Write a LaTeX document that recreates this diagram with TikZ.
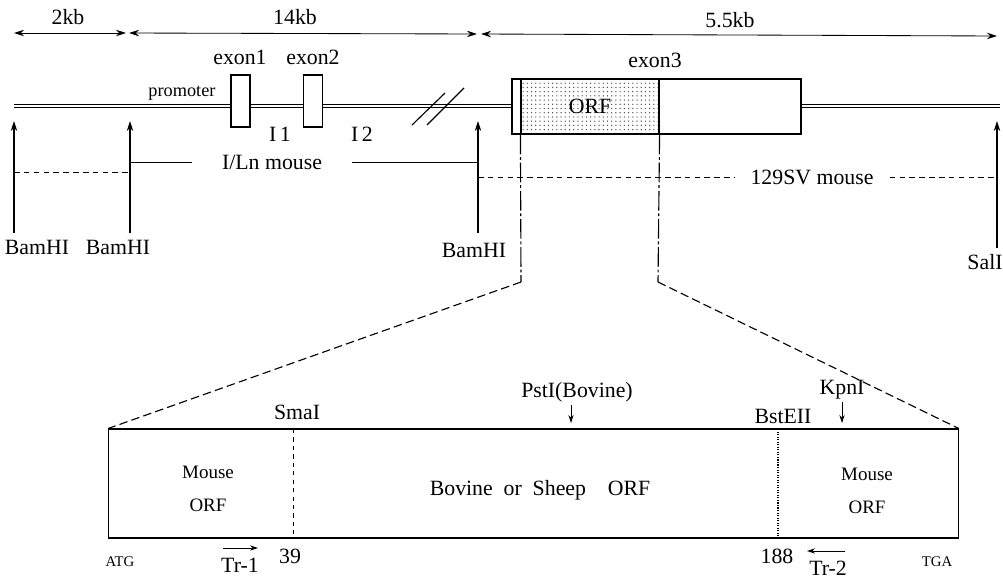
\documentclass[tikz,border=0pt]{standalone}
\usepackage{fontspec}
\setmainfont{Liberation Serif}
\usetikzlibrary{arrows.meta,positioning,patterns}
\tikzset{
 lbl/.style={font=\fontsize{15.5}{18}\selectfont,inner sep=1pt},
 smalltxt/.style={font=\fontsize{13}{15}\selectfont,inner sep=1pt},
 tinytxt/.style={font=\fontsize{10.5}{12}\selectfont,inner sep=1pt},
 exonbox/.style={draw,thick,fill=white,minimum width=0.475cm,minimum height=1.3cm,inner sep=0pt},
 arrow/.style={-{Stealth[length=2.5mm,width=1.6mm]},thick},
 primer/.style={-{Stealth[length=2mm,width=1.3mm]},semithick},
 dimarrow/.style={{Stealth[length=2.5mm,width=1.6mm]}-{Stealth[length=2.5mm,width=1.6mm]},semithick},
 dna/.style={double,double distance=1.2pt,line width=0.5pt},
 cut/.style={dash pattern=on 14pt off 2pt on 2pt off 2pt,thick},
 zoomline/.style={dash pattern=on 6pt off 3pt,thick},
 strain/.style={dash pattern=on 4pt off 3pt,semithick}
}

\begin{document}
\begin{tikzpicture}[x=0.025cm,y=-0.025cm]
\useasboundingbox (0,0) rectangle (1003,581);

% scale bar
\coordinate (d0) at (14,33);
\coordinate (d1) at (126,33);
\coordinate (d2) at (129,33);
\coordinate (d3) at (477,34);
\coordinate (d4) at (481,34);
\coordinate (d5) at (997,36);
\draw[dimarrow] (d0) -- (d1);
\draw[dimarrow] (d2) -- (d3);
\draw[dimarrow] (d4) -- (d5);
\node[lbl] (kb2) at (68,17) {2kb};
\node[lbl] (kb14) at (295,17) {14kb};
\node[lbl] (kb55) at (730,20) {5.5kb};

% genomic locus
\draw[dna] (14,106) -- (1000,106);
\draw[thick] (412,125) -- (445,93);
\draw[thick] (427,125) -- (464,88);
\node[smalltxt] (prom) at (182,93) {promoter};
\node[exonbox] (ex1) at (240.5,101) {};
\node[exonbox] (ex2) at (313,101) {};
\node[lbl] (ex1l) at (240,57) {exon1};
\node[lbl] (ex2l) at (313,57) {exon2};
\node[lbl] (in1) at (280,134) {I\,1};
\node[lbl] (in2) at (362,134) {I\,2};
\node[exonbox,minimum width=7.225cm,minimum height=1.375cm] (ex3) at (656.5,106.5) {};
\node[draw,thick,pattern=dots,pattern color=black!70,minimum width=3.45cm,minimum height=1.375cm,
      inner sep=0pt,font=\fontsize{15.5}{18}\selectfont] (orf) at (590,106.5) {ORF};
\node[lbl] (ex3l) at (655,60) {exon3};

% restriction sites
\foreach \n/\x/\y in {s1/14/233,s2/130/233,s3/478/233,s4/997/248}{
  \coordinate (\n-lo) at (\x,\y);
  \coordinate (\n-hi) at (\x,121);
  \draw[arrow] (\n-lo) -- (\n-hi);
}
\node[lbl] (bam1) at (37,247) {BamHI};
\node[lbl] (bam2) at (118,247) {BamHI};
\node[lbl] (bam3) at (474,250) {BamHI};
\node[lbl] (sal) at (985,262) {SalI};

% mouse strains
\coordinate (dl0) at (14,172);
\coordinate (dl1) at (130,172);
\draw[strain] (dl0) -- (dl1);
\coordinate (il0) at (130,162);
\coordinate (il1) at (478,162);
\node[lbl,inner xsep=0.75cm] (iln) at (272,162) {I/Ln mouse};
\draw[semithick] (il0) -- (iln.west);
\draw[semithick] (iln.east) -- (il1);
\coordinate (sv0) at (478,177);
\coordinate (sv1) at (997,177);
\node[lbl,inner xsep=0.4cm] (sv) at (812,177) {129SV mouse};
\draw[strain] (sv0) -- (sv.west);
\draw[strain] (sv.east) -- (sv1);

% chimeric ORF
\node[draw,thick,minimum width=21.225cm,minimum height=2.725cm,inner sep=0pt] (chim) at (533.5,483.5) {};
\coordinate (bendL) at (521,282);
\coordinate (bendR) at (658,282);
\draw[cut] (orf.south west) -- (bendL);
\draw[cut] (orf.south east) -- (bendR);
\draw[zoomline] (bendL) -- (chim.north west);
\draw[zoomline] (bendR) -- (chim.north east);

\coordinate (sma) at (293,429);
\coordinate (bst) at (778,429);
\draw[dashed,semithick] (sma) -- (sma |- chim.south);
\draw[densely dotted,thick] (bst) -- (bst |- chim.south);
\node[lbl] (smal) at (297,412) {SmaI};
\node[lbl] (bstl) at (783,416) {BstEII};
\node[lbl] (pst) at (577,392) {PstI(Bovine)};
\node[lbl] (kpn) at (842,390) {KpnI};
\coordinate (pst-a) at (571,405);
\coordinate (pst-b) at (571,423);
\coordinate (kpn-a) at (842,402);
\coordinate (kpn-b) at (842,423);
\draw[primer] (pst-a) -- (pst-b);
\draw[primer] (kpn-a) -- (kpn-b);

\node[smalltxt,align=center,font=\fontsize{13.5}{23}\selectfont] (mL) at (208,489) {Mouse\\ORF};
\node[smalltxt,align=center,font=\fontsize{13.5}{23}\selectfont] (mR) at (867,491) {Mouse\\ORF};
\node[lbl] (bov) at (540,490) {Bovine\enspace or\enspace Sheep\enspace\enspace ORF};

\node[tinytxt] (atg) at (120,562) {ATG};
\node[tinytxt] (tga) at (937,562) {TGA};
\node[lbl] (n39) at (290,556) {39};
\node[lbl] (n188) at (777,556) {188};
\coordinate (tr1-a) at (223,548);
\coordinate (tr1-b) at (258,548);
\coordinate (tr2-a) at (845,551);
\coordinate (tr2-b) at (807,551);
\draw[primer] (tr1-a) -- (tr1-b);
\draw[primer] (tr2-a) -- (tr2-b);
\node[lbl] (tr1) at (240,565) {Tr-1};
\node[lbl] (tr2) at (828,568) {Tr-2};
\end{tikzpicture}
\end{document}
